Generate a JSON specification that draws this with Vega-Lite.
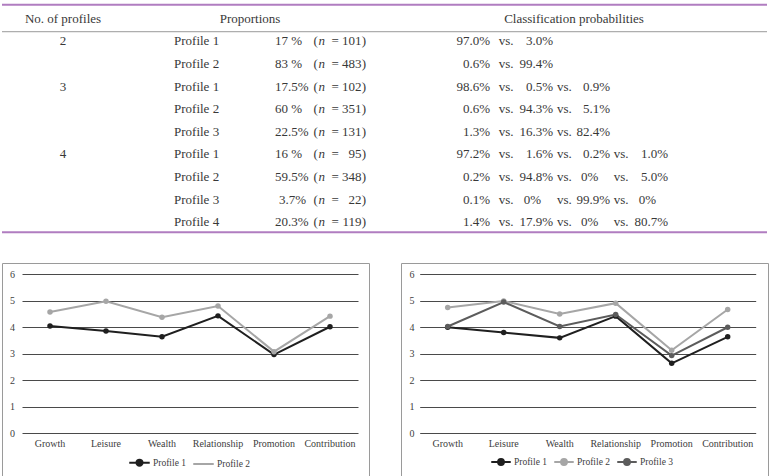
{
  "$schema": "https://vega.github.io/schema/vega-lite/v6.json",
  "background": "white",
  "padding": {"left": 1, "top": 0, "right": 0, "bottom": 0},
  "config": {
    "view": {"stroke": null},
    "font": "Liberation Serif",
    "text": {"font": "Liberation Serif", "fontSize": 13, "color": "#383838", "baseline": "middle"},
    "axis": {"labelFont": "Liberation Serif", "labelFontSize": 10, "labelColor": "#404040", "title": null},
    "legend": {"labelFont": "Liberation Serif", "labelFontSize": 9.5, "labelColor": "#404040", "padding": 0}
  },
  "datasets": {
    "table": [
      {"row": 1, "k": "2", "profile": "Profile 1", "share": "17 %", "n": 101, "p1": "97.0%", "p2": "3.0%"},
      {"row": 2, "profile": "Profile 2", "share": "83 %", "n": 483, "p1": "0.6%", "p2": "99.4%"},
      {"row": 3, "k": "3", "profile": "Profile 1", "share": "17.5%", "n": 102, "p1": "98.6%", "p2": "0.5%", "p3": "0.9%"},
      {"row": 4, "profile": "Profile 2", "share": "60 %", "n": 351, "p1": "0.6%", "p2": "94.3%", "p3": "5.1%"},
      {"row": 5, "profile": "Profile 3", "share": "22.5%", "n": 131, "p1": "1.3%", "p2": "16.3%", "p3": "82.4%"},
      {"row": 6, "k": "4", "profile": "Profile 1", "share": "16 %", "n": 95, "p1": "97.2%", "p2": "1.6%", "p3": "0.2%", "p4": "1.0%"},
      {"row": 7, "profile": "Profile 2", "share": "59.5%", "n": 348, "p1": "0.2%", "p2": "94.8%", "p3": "0%", "p4": "5.0%"},
      {"row": 8, "profile": "Profile 3", "share": "3.7%", "n": 22, "p1": "0.1%", "p2": "0%", "p3": "99.9%", "p4": "0%"},
      {"row": 9, "profile": "Profile 4", "share": "20.3%", "n": 119, "p1": "1.4%", "p2": "17.9%", "p3": "0%", "p4": "80.7%"}
    ],
    "headers": [
      {"row": 0, "label": "No. of profiles", "group": "count"},
      {"row": 0, "label": "Proportions", "group": "share"},
      {"row": 0, "label": "Classification probabilities", "group": "prob"}
    ],
    "twoProfiles": [
      {"profile": "Profile 1", "factor": "Growth", "value": 4.04},
      {"profile": "Profile 1", "factor": "Leisure", "value": 3.85},
      {"profile": "Profile 1", "factor": "Wealth", "value": 3.63},
      {"profile": "Profile 1", "factor": "Relationship", "value": 4.42},
      {"profile": "Profile 1", "factor": "Promotion", "value": 2.96},
      {"profile": "Profile 1", "factor": "Contribution", "value": 4.01},
      {"profile": "Profile 2", "factor": "Growth", "value": 4.57},
      {"profile": "Profile 2", "factor": "Leisure", "value": 4.97},
      {"profile": "Profile 2", "factor": "Wealth", "value": 4.37},
      {"profile": "Profile 2", "factor": "Relationship", "value": 4.79},
      {"profile": "Profile 2", "factor": "Promotion", "value": 3.07},
      {"profile": "Profile 2", "factor": "Contribution", "value": 4.41}
    ],
    "threeProfiles": [
      {"profile": "Profile 1", "factor": "Growth", "value": 3.99},
      {"profile": "Profile 1", "factor": "Leisure", "value": 3.79},
      {"profile": "Profile 1", "factor": "Wealth", "value": 3.59},
      {"profile": "Profile 1", "factor": "Relationship", "value": 4.41},
      {"profile": "Profile 1", "factor": "Promotion", "value": 2.63},
      {"profile": "Profile 1", "factor": "Contribution", "value": 3.63},
      {"profile": "Profile 2", "factor": "Growth", "value": 4.74},
      {"profile": "Profile 2", "factor": "Leisure", "value": 4.98},
      {"profile": "Profile 2", "factor": "Wealth", "value": 4.49},
      {"profile": "Profile 2", "factor": "Relationship", "value": 4.9},
      {"profile": "Profile 2", "factor": "Promotion", "value": 3.12},
      {"profile": "Profile 2", "factor": "Contribution", "value": 4.66},
      {"profile": "Profile 3", "factor": "Growth", "value": 4.02},
      {"profile": "Profile 3", "factor": "Leisure", "value": 4.94},
      {"profile": "Profile 3", "factor": "Wealth", "value": 4.02},
      {"profile": "Profile 3", "factor": "Relationship", "value": 4.47},
      {"profile": "Profile 3", "factor": "Promotion", "value": 2.92},
      {"profile": "Profile 3", "factor": "Contribution", "value": 3.99}
    ]
  },
  "spacing": 21,
  "vconcat": [
    {
      "width": 765,
      "height": 241,
      "layer": [
        {"data": {"values": [{}]}, "mark": {"type": "rule", "color": "#b07dc0", "strokeWidth": 2},
         "encoding": {"y": {"datum": -0.628, "type": "quantitative", "scale": {"domain": [-0.836, 9.836], "reverse": true, "nice": false, "zero": false}, "axis": null}}},
        {"data": {"values": [{}]}, "mark": {"type": "rule", "color": "#9a9a9a", "strokeWidth": 1}, "encoding": {"y": {"datum": 0.568, "type": "quantitative"}}},
        {"data": {"values": [{}]}, "mark": {"type": "rule", "color": "#b07dc0", "strokeWidth": 2}, "encoding": {"y": {"datum": 9.452, "type": "quantitative"}}},
        {"data": {"name": "headers"}, "transform": [{"filter": "datum.group === 'count'"}], "mark": {"type": "text", "align": "center"},
         "encoding": {"text": {"field": "label"}, "y": {"field": "row", "type": "quantitative"}, "x": {"datum": 61, "type": "quantitative", "scale": {"domain": [0, 765], "nice": false, "zero": false}, "axis": null}}},
        {"data": {"name": "headers"}, "transform": [{"filter": "datum.group === 'share'"}], "mark": {"type": "text", "align": "center"},
         "encoding": {"text": {"field": "label"}, "y": {"field": "row", "type": "quantitative"}, "x": {"datum": 248, "type": "quantitative"}}},
        {"data": {"name": "headers"}, "transform": [{"filter": "datum.group === 'prob'"}], "mark": {"type": "text", "align": "center"},
         "encoding": {"text": {"field": "label"}, "y": {"field": "row", "type": "quantitative"}, "x": {"datum": 572, "type": "quantitative"}}},
        {
          "data": {"name": "table"},
          "encoding": {"y": {"field": "row", "type": "quantitative"}},
          "layer": [
            {"transform": [{"filter": "isValid(datum.k)"}], "mark": {"type": "text", "align": "center"}, "encoding": {"text": {"field": "k"}, "x": {"datum": 61, "type": "quantitative"}}},
            {"mark": {"type": "text", "align": "left"}, "encoding": {"text": {"field": "profile"}, "x": {"datum": 172, "type": "quantitative"}}},
            {"transform": [{"filter": "datum.share !== '3.7%'"}], "mark": {"type": "text", "align": "left"}, "encoding": {"text": {"field": "share"}, "x": {"datum": 273, "type": "quantitative"}}},
            {"transform": [{"filter": "datum.share === '3.7%'"}], "mark": {"type": "text", "align": "left"}, "encoding": {"text": {"field": "share"}, "x": {"datum": 277, "type": "quantitative"}}},
            {"mark": {"type": "text", "align": "left"}, "encoding": {"text": {"value": "("}, "x": {"datum": 311.5, "type": "quantitative"}}},
            {"mark": {"type": "text", "align": "left", "fontStyle": "italic"}, "encoding": {"text": {"value": "n"}, "x": {"datum": 316.5, "type": "quantitative"}}},
            {"mark": {"type": "text", "align": "left"}, "encoding": {"text": {"value": "="}, "x": {"datum": 329.5, "type": "quantitative"}}},
            {"mark": {"type": "text", "align": "right"}, "encoding": {"text": {"field": "n", "type": "quantitative"}, "x": {"datum": 359.5, "type": "quantitative"}}},
            {"mark": {"type": "text", "align": "left"}, "encoding": {"text": {"value": ")"}, "x": {"datum": 359.7, "type": "quantitative"}}},
            {"mark": {"type": "text", "align": "right"}, "encoding": {"text": {"field": "p1"}, "x": {"datum": 488, "type": "quantitative"}}},
            {"transform": [{"filter": "isValid(datum.p2)"}], "mark": {"type": "text", "align": "left"}, "encoding": {"text": {"value": "vs."}, "x": {"datum": 496.7, "type": "quantitative"}}},
            {"transform": [{"filter": "isValid(datum.p2) && datum.p2 !== '0%'"}], "mark": {"type": "text", "align": "right"}, "encoding": {"text": {"field": "p2"}, "x": {"datum": 551, "type": "quantitative"}}},
            {"transform": [{"filter": "datum.p2 === '0%'"}], "mark": {"type": "text", "align": "left"}, "encoding": {"text": {"field": "p2"}, "x": {"datum": 521.7, "type": "quantitative"}}},
            {"transform": [{"filter": "isValid(datum.p3)"}], "mark": {"type": "text", "align": "left"}, "encoding": {"text": {"value": "vs."}, "x": {"datum": 555, "type": "quantitative"}}},
            {"transform": [{"filter": "isValid(datum.p3) && datum.p3 !== '0%'"}], "mark": {"type": "text", "align": "right"}, "encoding": {"text": {"field": "p3"}, "x": {"datum": 608, "type": "quantitative"}}},
            {"transform": [{"filter": "datum.p3 === '0%'"}], "mark": {"type": "text", "align": "left"}, "encoding": {"text": {"field": "p3"}, "x": {"datum": 579, "type": "quantitative"}}},
            {"transform": [{"filter": "isValid(datum.p4)"}], "mark": {"type": "text", "align": "left"}, "encoding": {"text": {"value": "vs."}, "x": {"datum": 611.7, "type": "quantitative"}}},
            {"transform": [{"filter": "isValid(datum.p4) && datum.p4 !== '0%'"}], "mark": {"type": "text", "align": "right"}, "encoding": {"text": {"field": "p4"}, "x": {"datum": 666, "type": "quantitative"}}},
            {"transform": [{"filter": "datum.p4 === '0%'"}], "mark": {"type": "text", "align": "left"}, "encoding": {"text": {"field": "p4"}, "x": {"datum": 636.7, "type": "quantitative"}}}
          ]
        }
      ]
    },
    {
      "spacing": 30,
      "resolve": {"scale": {"color": "independent", "x": "independent", "y": "independent"}, "legend": {"color": "independent"}},
      "hconcat": [
        {
          "width": 367,
          "height": 218,
          "view": {"stroke": "#9a9a9a", "strokeWidth": 1},
          "data": {"name": "twoProfiles"},
          "encoding": {
            "x": {"field": "factor", "type": "nominal", "sort": null,
                  "scale": {"type": "band", "range": [20, 356], "paddingInner": 0, "paddingOuter": 0},
                  "axis": {"orient": "bottom", "offset": -44.5, "domain": false, "ticks": false, "tickSize": 0, "labelPadding": 2, "labelAngle": 0, "grid": false}},
            "y": {"field": "value", "type": "quantitative",
                  "scale": {"domain": [0, 6], "range": [170, 11], "nice": false},
                  "axis": {"values": [0, 1, 2, 3, 4, 5, 6], "domain": false, "ticks": false, "tickSize": 0, "labelPadding": -12.5, "grid": true, "gridColor": "#4a4a4a", "gridWidth": 1}},
            "color": {"field": "profile", "type": "nominal",
                      "scale": {"domain": ["Profile 1", "Profile 2"], "range": ["#1f1f1f", "#a6a6a6"]},
                      "legend": {"orient": "none", "legendX": 126, "legendY": 188, "direction": "horizontal", "title": null,
                                 "symbolType": "M-1,0H1", "symbolSize": 420, "symbolStrokeWidth": 2, "labelOffset": 2, "columnPadding": 3,
                                 "encode": {"symbols": {"update": {
                                   "shape": {"signal": "datum.value === 'Profile 2' ? 'M-1,0H1' : 'M-1,0H1M0.3,0A0.3,0.3,0,1,1,-0.3,0A0.3,0.3,0,1,1,0.3,0Z'"},
                                   "fill": {"signal": "datum.value === 'Profile 2' ? '#a6a6a6' : '#1f1f1f'"},
                                   "stroke": {"signal": "datum.value === 'Profile 2' ? '#a6a6a6' : '#1f1f1f'"},
                                   "strokeWidth": {"value": 2},
                                   "opacity": {"value": 1}}}}}}
          },
          "layer": [
            {"mark": {"type": "line", "strokeWidth": 2}},
            {"mark": {"type": "point", "filled": true, "size": 30, "opacity": 1}}
          ]
        },
        {
          "width": 367,
          "height": 218,
          "view": {"stroke": "#9a9a9a", "strokeWidth": 1},
          "data": {"name": "threeProfiles"},
          "encoding": {
            "x": {"field": "factor", "type": "nominal", "sort": null,
                  "scale": {"type": "band", "range": [18.7, 354.7], "paddingInner": 0, "paddingOuter": 0},
                  "axis": {"orient": "bottom", "offset": -44.5, "domain": false, "ticks": false, "tickSize": 0, "labelPadding": 2, "labelAngle": 0, "grid": false}},
            "y": {"field": "value", "type": "quantitative",
                  "scale": {"domain": [0, 6], "range": [170, 11], "nice": false},
                  "axis": {"values": [0, 1, 2, 3, 4, 5, 6], "domain": false, "ticks": false, "tickSize": 0, "labelPadding": -13, "grid": true, "gridColor": "#4a4a4a", "gridWidth": 1}},
            "color": {"field": "profile", "type": "nominal",
                      "scale": {"domain": ["Profile 1", "Profile 2", "Profile 3"], "range": ["#1f1f1f", "#a6a6a6", "#5c5c5c"]},
                      "legend": {"orient": "none", "legendX": 89, "legendY": 188, "direction": "horizontal", "title": null,
                                 "symbolType": "M-1,0H1", "symbolSize": 380, "symbolStrokeWidth": 2, "labelOffset": 2, "columnPadding": 3,
                                 "encode": {"symbols": {"update": {
                                   "shape": {"value": "M-1,0H1M0.3,0A0.3,0.3,0,1,1,-0.3,0A0.3,0.3,0,1,1,0.3,0Z"},
                                   "fill": {"signal": "datum.value === 'Profile 1' ? '#1f1f1f' : datum.value === 'Profile 2' ? '#a6a6a6' : '#5c5c5c'"},
                                   "stroke": {"signal": "datum.value === 'Profile 1' ? '#1f1f1f' : datum.value === 'Profile 2' ? '#a6a6a6' : '#5c5c5c'"},
                                   "strokeWidth": {"value": 2},
                                   "opacity": {"value": 1}}}}}}
          },
          "layer": [
            {"mark": {"type": "line", "strokeWidth": 2}},
            {"mark": {"type": "point", "filled": true, "size": 30, "opacity": 1}}
          ]
        }
      ]
    }
  ]
}
